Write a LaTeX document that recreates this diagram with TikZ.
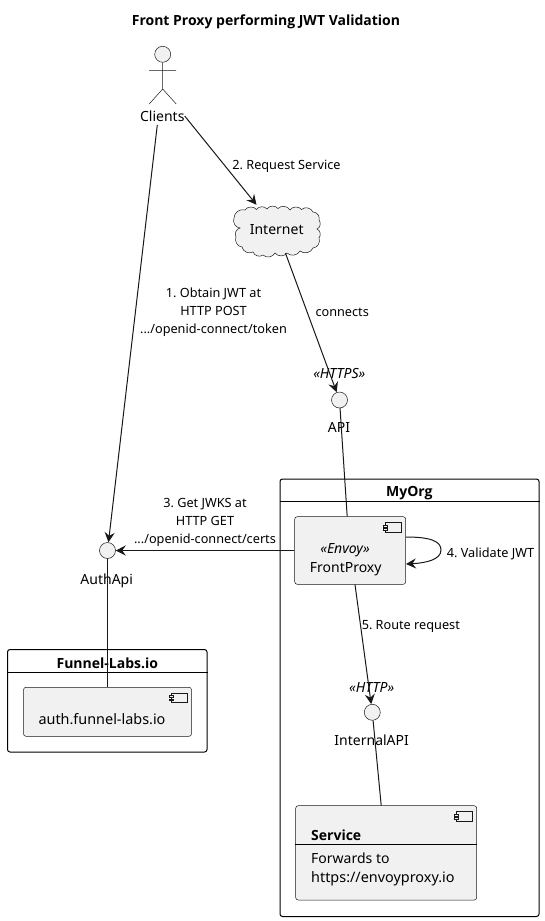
\documentclass[tikz,border=0pt]{standalone}
\usepackage{fontspec}
\setmainfont{Noto Sans}
\newfontfamily\heavyfont{Open Sans}
\usetikzlibrary{arrows.meta}
\definecolor{umlfill}{HTML}{F1F1F1}
\definecolor{umlline}{HTML}{181818}
\tikzset{
  lbl/.style={inner sep=0pt,text height=14.5pt,text depth=3pt,font=\fontsize{14}{18}\selectfont\frenchspacing,text=black},
  widelbl/.style={lbl,font=\fontsize{14.4}{18}\selectfont\frenchspacing},
  edgelbl/.style={inner sep=0pt,align=center,font=\fontsize{12.7}{18}\selectfont\frenchspacing,text=black},
  steretype/.style={lbl,font=\fontsize{14}{18}\selectfont\itshape},
  boldlbl/.style={lbl,font=\heavyfont\fontsize{14}{18}\selectfont\bfseries},
  compbox/.style={draw=umlline,line width=.5pt,fill=umlfill,rounded corners=2.5pt,inner sep=0pt},
  frame/.style={draw=black,line width=1pt,rounded corners=2.5pt,inner sep=0pt},
  iface/.style={circle,draw=umlline,line width=.5pt,fill=umlfill,minimum size=16pt,inner sep=0pt},
  link/.style={draw=umlline,line width=1pt},
  arrowlink/.style={link,-{Stealth[length=10pt,width=10pt,inset=3.5pt]}},
  thin part/.style={draw=umlline,line width=.5pt}
}
\newcommand{\compicon}[1]{%
  \draw[thin part,fill=umlfill] ([xshift=-21pt,yshift=-6pt]#1.north east) rectangle ([xshift=-5pt,yshift=-15.5pt]#1.north east);
  \draw[thin part,fill=umlfill] ([xshift=-23pt,yshift=-8.5pt]#1.north east) rectangle ([xshift=-19pt,yshift=-10.3pt]#1.north east);
  \draw[thin part,fill=umlfill] ([xshift=-23pt,yshift=-11.8pt]#1.north east) rectangle ([xshift=-19pt,yshift=-13.6pt]#1.north east);
}
\begin{document}
\begin{tikzpicture}[x=1pt,y=-1pt]
\useasboundingbox (0,0) rectangle (545,921);
\node[boldlbl] (title) at (266,20) {Front Proxy performing JWT Validation};

% frames
\node[frame,minimum width=259pt,minimum height=437.5pt] (myorg) at (409.5,697.75) {};
\draw[draw=black,line width=1pt] (myorg.west |- 0,501.7) -- (myorg.east |- 0,501.7);
\node[boldlbl] (myorglbl) at (409.3,491) {MyOrg};
\node[frame,minimum width=199.5pt,minimum height=102.5pt] (funnel) at (107.25,700.75) {};
\draw[draw=black,line width=1pt] (funnel.west |- 0,672.3) -- (funnel.east |- 0,672.3);
\node[boldlbl] (funnellbl) at (107.3,662.3) {Funnel-Labs.io};

% actor
\node[circle,draw=umlline,line width=.5pt,fill=umlfill,minimum size=16pt,inner sep=0pt] (head) at (162.7,54.3) {};
\coordinate (hip) at (162.7,89);
\coordinate (armL) at (149.2,70.5);
\coordinate (armR) at (176.2,70.5);
\coordinate (footL) at (149.2,104);
\coordinate (footR) at (176.2,104);
\draw[thin part] (head.south) -- (hip) (armL) -- (armR) (footL) -- (hip) -- (footR);
\node[lbl] (clients) at (162.3,116) {Clients};

% cloud
\node[inner sep=0pt,minimum width=87pt,minimum height=48pt] (internet) at (277.5,229) {};
\draw[thin part,fill=umlfill]
  (245,210) to[bend left=55] (256.5,209.5) to[bend left=55] (267,209) to[bend left=55] (278,208.5)
  to[bend left=55] (290,210) to[bend left=55] (301.5,209.5) to[bend left=55] (313,212)
  to[bend left=55] (319,220) to[bend left=55] (317,229) to[bend left=55] (319,238)
  to[bend left=55] (313,248) to[bend left=55] (300,251) to[bend left=55] (287,253)
  to[bend left=55] (275,253) to[bend left=55] (263,255) to[bend left=55] (253,252)
  to[bend left=55] (242,247) to[bend left=55] (236,237) to[bend left=55] (240,228)
  to[bend left=55] (234,218) to[bend left=55] cycle;
\node[lbl] (internetlbl) at (276.7,229) {Internet};

% interfaces
\node[iface] (api) at (339.5,400) {};
\node[steretype] (apiS) at (339.3,373) {«HTTPS»};
\node[lbl] (apilbl) at (339,427) {API};
\node[iface] (authapi) at (107.5,550.5) {};
\node[lbl] (authapilbl) at (106.7,578.3) {AuthApi};
\node[iface] (internalapi) at (372.3,712.3) {};
\node[steretype] (internalS) at (371.7,686.7) {«HTTP»};
\node[lbl] (internallbl) at (371.7,739.3) {InternalAPI};

% components
\node[compbox,minimum width=111pt,minimum height=67.6pt] (frontproxy) at (350.2,550.5) {};
\compicon{frontproxy}
\node[steretype] (fpS) at (345,547.7) {«Envoy»};
\node[lbl] (fplbl) at (345.7,566.7) {FrontProxy};

\node[compbox,minimum width=168pt,minimum height=49pt] (auth) at (107.5,711.8) {};
\compicon{auth}
\node[widelbl] (authlbl) at (102,718.3) {auth.funnel-labs.io};

\node[compbox,minimum width=181pt,minimum height=94.3pt] (service) at (386.2,852.85) {};
\compicon{service}
\node[boldlbl,anchor=west] (svcname) at (311,835) {Service};
\draw[draw=black,line width=1pt] (service.west |- 0,844) -- (service.east |- 0,844);
\node[lbl,anchor=west] (svc1) at (311,858) {Forwards to};
\node[widelbl,anchor=west] (svc2) at (311,877) {https://envoyproxy.io};

% edge labels
\node[edgelbl] (l1) at (213.5,312.5) {1. Obtain JWT at\\HTTP POST\\.../openid-connect/token};
\node[edgelbl] (l2) at (286.5,166.7) {2. Request Service};
\node[edgelbl] (lc) at (342.2,312.7) {connects};
\node[edgelbl] (l3) at (205,522.5) {3. Get JWKS at\\HTTP GET\\.../openid-connect/certs};
\node[edgelbl] (l4) at (490.5,553.7) {4. Validate JWT};
\node[edgelbl] (l5) at (410.8,626) {5. Route request};

% links
\draw[arrowlink] ([xshift=-5pt]clients.south) -- (authapi);
\draw[arrowlink] (clients.east) -- ([xshift=-21pt]internet.north);
\draw[arrowlink] ([xshift=8pt]internet.south) -- (api);
\draw[link] (api) -- ([xshift=-3pt]frontproxy.north);
\draw[arrowlink] (frontproxy) -- (authapi);
\draw[arrowlink] ([yshift=13.5pt]frontproxy.east) .. controls (430,537) and (441,541) .. (441,550) .. controls (441,560) and (425,563) .. ([yshift=-13.5pt]frontproxy.east);
\draw[arrowlink] ([xshift=4.8pt]frontproxy.south) -- (internalapi);
\draw[link] (internalapi) -- ([xshift=-5pt]service.north);
\draw[link] (authapi) -- (auth.north);
\end{tikzpicture}
\end{document}
